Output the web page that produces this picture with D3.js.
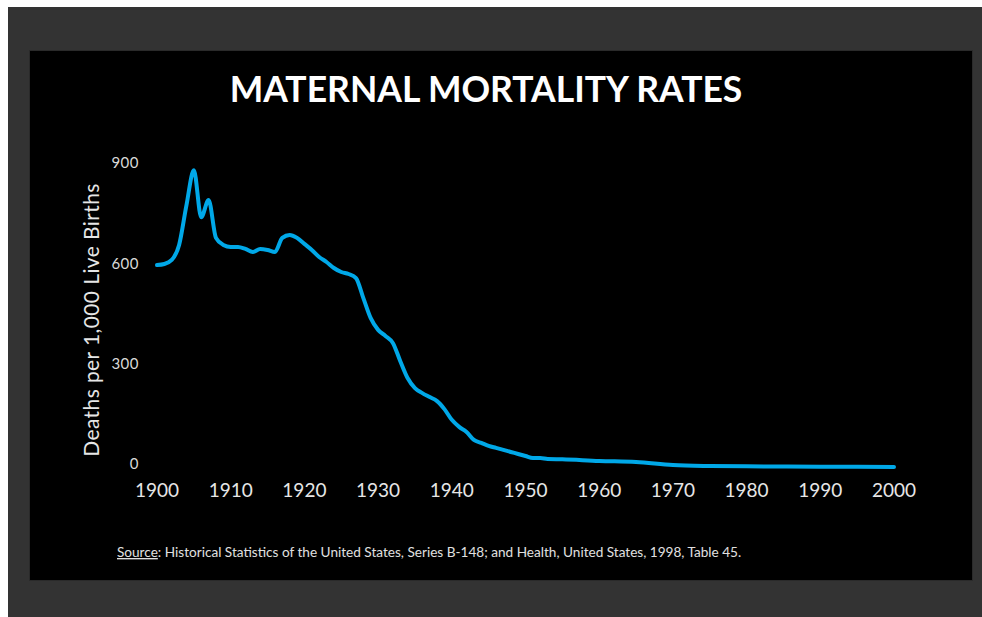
<!DOCTYPE html>
<html>
<head>
<meta charset="utf-8">
<script src="https://cdn.jsdelivr.net/npm/d3@7"></script>
<style>
  html, body { margin: 0; padding: 0; background: #fff; }
  svg { display: block; }
</style>
</head>
<body>
<div id="chart"></div>
<script>
// values
const years = [1900, 1901, 1902, 1903, 1904, 1905, 1906, 1907, 1908, 1909,
  1910, 1911, 1912, 1913, 1914, 1915, 1916, 1917, 1918, 1919,
  1920, 1921, 1922, 1923, 1924, 1925, 1926, 1927, 1928, 1929,
  1930, 1931, 1932, 1933, 1934, 1935, 1936, 1937, 1938, 1939,
  1940, 1941, 1942, 1943, 1944, 1945, 1946, 1947, 1948, 1949,
  1950, 1951, 1952, 1953, 1955, 1960, 1965, 1970, 1975, 1980, 1990, 2000];
const rates = [607, 610, 622, 667, 786, 890, 750, 801, 688, 667,
  661, 661, 655, 646, 655, 652, 646, 688, 697, 688,
  670, 652, 631, 616, 598, 586, 580, 568, 508, 448,
  413, 395, 374, 320, 269, 239, 224, 212, 200, 176,
  144, 123, 108, 84, 75, 66, 60, 54, 48, 42,
  36, 30, 30, 27, 26, 21, 18, 9, 6, 5, 4, 3];
const yTicks = [0, 300, 600, 900];
const xTicks = [1900, 1910, 1920, 1930, 1940, 1950, 1960, 1970, 1980, 1990, 2000];

const width = 982, height = 617;

const svg = d3.select("#chart").append("svg")
    .attr("width", width)
    .attr("height", height);

// frame
svg.append("rect")
    .attr("x", 8).attr("y", 7)
    .attr("width", width - 8).attr("height", height - 7)
    .attr("fill", "#333333");
svg.append("rect")
    .attr("x", 29.5).attr("y", 50.5)
    .attr("width", 943).attr("height", 530)
    .attr("fill", "#000")
    .attr("stroke", "#2a2a2a");

const x = d3.scaleLinear().domain([1900, 2000]).range([157, 894]);
const y = d3.scaleLinear().domain([0, 900]).range([468, 167]);

svg.append("text")
    .attr("x", 486).attr("y", 102)
    .attr("text-anchor", "middle")
    .attr("fill", "#fff")
    .style("font", "bold 35.5px Lato, sans-serif")
    .text("MATERNAL MORTALITY RATES");

// y axis labels
svg.append("g")
    .selectAll("text")
    .data(yTicks)
    .join("text")
    .attr("x", 139)
    .attr("y", d => y(d) - 4)
    .attr("dy", "0.35em")
    .attr("text-anchor", "end")
    .attr("fill", "#d9d9d9")
    .style("font", "15px Lato, sans-serif")
    .style("letter-spacing", "0.5px")
    .text(d => d);

// x axis labels
svg.append("g")
    .selectAll("text")
    .data(xTicks)
    .join("text")
    .attr("x", d => x(d))
    .attr("y", 497)
    .attr("text-anchor", "middle")
    .attr("fill", "#e6e6e6")
    .style("font", "19px Lato, sans-serif")
    .text(d => d);

svg.append("text")
    .attr("transform", "translate(99,320) rotate(-90)")
    .attr("text-anchor", "middle")
    .attr("fill", "#e6e6e6")
    .style("font", "21px Lato, sans-serif")
    .style("letter-spacing", "0.4px")
    .text("Deaths per 1,000 Live Births");

const line = d3.line()
    .x((d, i) => x(years[i]))
    .y(d => y(d))
    .curve(d3.curveMonotoneX);

svg.append("path")
    .datum(rates)
    .attr("fill", "none")
    .attr("stroke", "#00a8e8")
    .attr("stroke-width", 4)
    .attr("stroke-linejoin", "round")
    .attr("stroke-linecap", "round")
    .attr("d", line);

// source note
const src = svg.append("text")
    .attr("x", 117).attr("y", 557)
    .attr("fill", "#e0e0e0")
    .style("font", "13.6px Lato, sans-serif");
src.append("tspan")
    .attr("text-decoration", "underline")
    .text("Source");
src.append("tspan")
    .text(": Historical Statistics of the United States, Series B-148; and Health, United States, 1998, Table 45.");
</script>
</body>
</html>
